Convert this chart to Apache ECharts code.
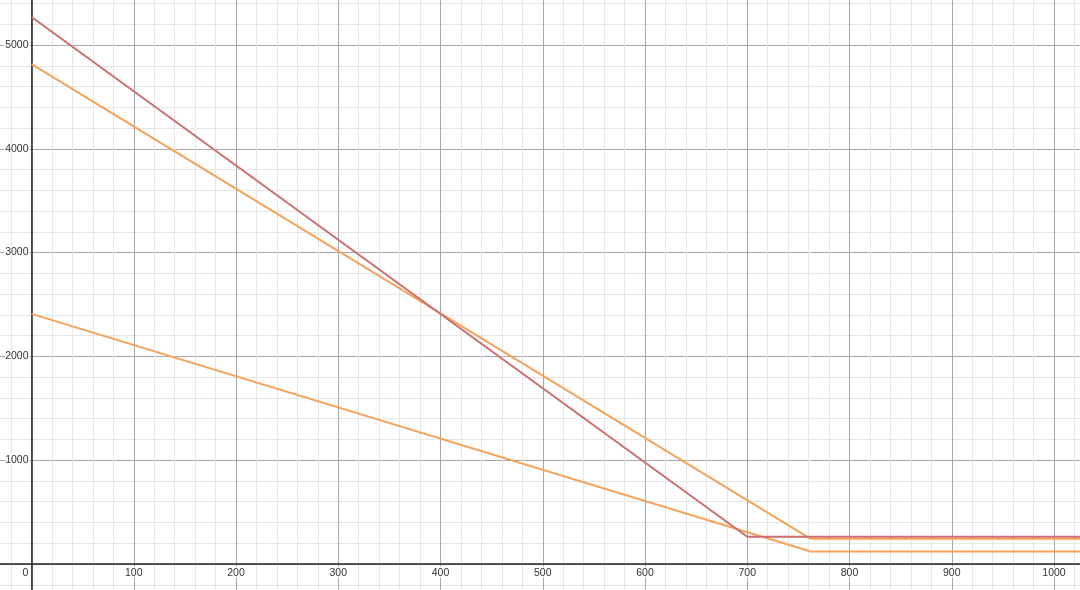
<!DOCTYPE html>
<html>
<head>
<meta charset="utf-8">
<style>
html,body{margin:0;padding:0;background:#fff;overflow:hidden;}
#c{width:1080px;height:590px;}
</style>
<script src="https://cdn.jsdelivr.net/npm/echarts@6/dist/echarts.min.js"></script>
</head>
<body>
<div id="c"></div>
<script>
// Data
const redLine = [[0, 5270], [700, 263], [1100, 263]];
const orangeUpper = [[0, 4815], [762, 243], [1100, 243]];
const orangeLower = [[0, 2410], [762, 121], [1100, 121]];
const xTickStep = 100;
const yTickStep = 1000;

const pxPerX = 1.0225;
const pxPerY = 0.1038;
const originX = 31.5, originY = 564;
const xMin = -100, xMax = 1100, yMin = -1000, yMax = 6000;

const chart = echarts.init(document.getElementById('c'), null, {renderer: 'canvas'});

const labelStyle = {
  color: '#333', fontSize: 10.5, fontFamily: 'Liberation Sans, Arial, sans-serif',
  textBorderColor: '#fff', textBorderWidth: 3
};

chart.setOption({
  animation: false,
  backgroundColor: '#fff',
  grid: {
    left: originX + xMin * pxPerX,
    right: 1080 - (originX + xMax * pxPerX),
    top: originY - yMax * pxPerY,
    bottom: 590 - (originY - yMin * pxPerY),
    containLabel: false,
    outerBoundsMode: 'none'
  },
  xAxis: {
    type: 'value', min: xMin, max: xMax, interval: xTickStep,
    offset: yMin * pxPerY,
    axisLine: {onZero: false, lineStyle: {color: '#222', width: 1.5}},
    axisTick: {show: false},
    axisLabel: Object.assign({}, labelStyle, {
      margin: 4,
      formatter: v => v === 0 ? '{z|0}' : String(v),
      rich: {
        z: Object.assign({}, labelStyle, {padding: [0, 12, 0, 0]})
      }
    }),
    splitLine: {show: true, lineStyle: {color: '#a8a8a8', width: 1}},
    minorTick: {show: false, splitNumber: 5},
    minorSplitLine: {show: true, lineStyle: {color: '#e6e6e6', width: 1}}
  },
  yAxis: {
    type: 'value', min: yMin, max: yMax, interval: yTickStep,
    offset: xMin * pxPerX,
    axisLine: {onZero: false, lineStyle: {color: '#222', width: 1.5}},
    axisTick: {show: false},
    axisLabel: Object.assign({}, labelStyle, {
      margin: 3,
      formatter: v => v === 0 ? '' : String(v)
    }),
    splitLine: {show: true, lineStyle: {color: '#a8a8a8', width: 1}},
    minorTick: {show: false, splitNumber: 5},
    minorSplitLine: {show: true, lineStyle: {color: '#e6e6e6', width: 1}}
  },
  series: [
    {type: 'line', data: orangeLower, symbol: 'none', lineStyle: {color: '#f5a35c', width: 2}},
    {type: 'line', data: orangeUpper, symbol: 'none', lineStyle: {color: '#f5a35c', width: 2}},
    {type: 'line', data: redLine, symbol: 'none', lineStyle: {color: '#cc6d70', width: 2}}
  ]
});
</script>
</body>
</html>
